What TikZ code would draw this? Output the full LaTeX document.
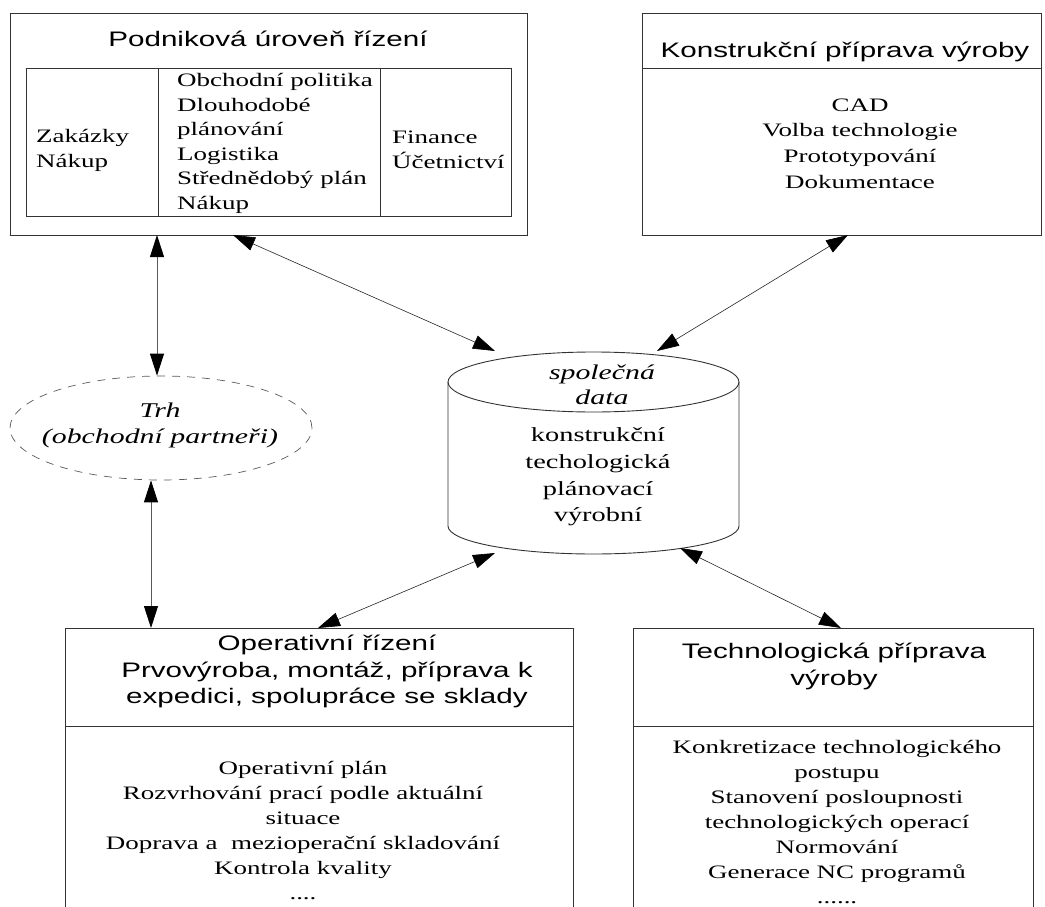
\documentclass[tikz,border=0pt]{standalone}
\usepackage{fontspec}
\setmainfont{Liberation Serif}[FakeStretch=1.42]
\newfontfamily\headfont{Liberation Sans}[FakeStretch=1.41]
\usetikzlibrary{arrows.meta,calc,shapes.geometric}

\begin{document}
\begin{tikzpicture}[x=1pt,y=-1pt,
  frame/.style={draw=black!80, line width=0.9pt, inner sep=0pt, outer sep=0pt},
  link/.style={draw=black!85, line width=0.6pt,
    {Triangle[length=22pt,width=14pt,color=black]}-{Triangle[length=22pt,width=14pt,color=black]}},
  vlink/.style={link, draw=black!65, line width=0.9pt},
  head/.style={font=\headfont\fontsize{21}{26.5}\selectfont, align=center, inner sep=0pt},
  body/.style={font=\fontsize{19}{25}\selectfont, align=center, inner sep=0pt},
  ]
\useasboundingbox (0,0) rectangle (1045,907);
\clip (0,0) rectangle (1045,907);

% --- enterprise level (top left) ---
\node[frame, anchor=north west, minimum width=517pt, minimum height=222pt] (plan) at (10,13) {};
\node[frame, anchor=north west, minimum width=485pt, minimum height=148pt] (planin) at (26,68) {};
\draw[frame] ($(planin.north west)+(132,0)$) -- ($(planin.south west)+(132,0)$);
\draw[frame] ($(planin.north west)+(354,0)$) -- ($(planin.south west)+(354,0)$);
\node[head, anchor=base] (tplan) at (268,47) {Podniková úroveň řízení};
\node[body, align=left, anchor=west] (zak) at (36,150) {Zakázky\\Nákup};
\node[body, align=left, anchor=west, font=\fontsize{19}{24.6}\selectfont] (obch) at (177,143.5)
  {Obchodní politika\\Dlouhodobé\\plánování\\Logistika\\Střednědobý plán\\Nákup};
\node[body, align=left, anchor=west] (fin) at (392,150) {Finance\\Účetnictví};

% --- design preparation (top right) ---
\node[frame, anchor=north west, minimum width=399pt, minimum height=222pt] (konstr) at (642,13) {};
\draw[frame] ($(konstr.north west)+(0,55)$) -- ($(konstr.north east)+(0,55)$);
\node[head, anchor=base] (tkonstr) at (845,58) {Konstrukční příprava výroby};
\node[body, font=\fontsize{19}{25.7}\selectfont] (cad) at (860,143.5)
  {CAD\\Volba technologie\\Prototypování\\Dokumentace};

% --- market ---
\node[ellipse, draw=black!65, line width=0.7pt, dash pattern=on 8pt off 7pt,
      minimum width=302pt, minimum height=104pt, inner sep=0pt] (trh) at (161,428) {};
\node[body, font=\itshape\fontsize{21}{26}\selectfont] (trhtext) at (160,425)
  {Trh\\(obchodní partneři)};

% --- shared data (cylinder) ---
\draw[frame] (448,382) -- (448,526) arc[start angle=180, end angle=0, x radius=145.5, y radius=28] -- (739,382);
\draw[frame] (593.5,382) ellipse[x radius=145.5, y radius=30];
\coordinate (cylNW) at (495,351);
\coordinate (cylNE) at (657,351);
\coordinate (cylSW) at (495,553);
\coordinate (cylSE) at (680,548);
\node[body, font=\itshape\fontsize{21}{25}\selectfont] (spol) at (602,384.5) {společná\\data};
\node[body, font=\fontsize{20}{26.7}\selectfont] (druhy) at (598,477)
  {konstrukční\\techologická\\plánovací\\výrobní};

% --- operative control (bottom left) ---
\node[frame, anchor=north west, minimum width=508pt, minimum height=300pt] (oper) at (65,628) {};
\draw[frame] ($(oper.north west)+(0,98)$) -- ($(oper.north east)+(0,98)$);
\node[head] (toper) at (327,671.5)
  {Operativní řízení\\Prvovýroba, montáž, příprava k\\expedici, spolupráce se sklady};
\node[body] (boper) at (303,830.5)
  {Operativní plán\\Rozvrhování prací podle aktuální\\situace\\Doprava a~~mezioperační skladování\\Kontrola kvality\\....};

% --- process planning (bottom right) ---
\node[frame, anchor=north west, minimum width=400pt, minimum height=300pt] (techn) at (633,628) {};
\draw[frame] ($(techn.north west)+(0,98)$) -- ($(techn.north east)+(0,98)$);
\node[head] (ttechn) at (834,666.5) {Technologická příprava\\výroby};
\node[body] (btechn) at (837,822)
  {Konkretizace technologického\\postupu\\Stanovení posloupnosti\\technologických operací\\Normování\\Generace NC programů\\......};

% --- connectors ---
\draw[vlink] ($(plan.south west)+(147,0)$) -- ($(trh.north)+(-4,0)$);
\draw[vlink] ($(trh.south)+(-10,0)$) -- ($(oper.north west)+(86,0)$);
\draw[link] ($(plan.south west)+(223,0)$) -- (cylNW);
\draw[link] ($(konstr.south west)+(206,0)$) -- (cylNE);
\draw[link] (cylSW) -- ($(oper.north west)+(253,0)$);
\draw[link] (cylSE) -- ($(techn.north west)+(208,0)$);
\end{tikzpicture}
\end{document}
